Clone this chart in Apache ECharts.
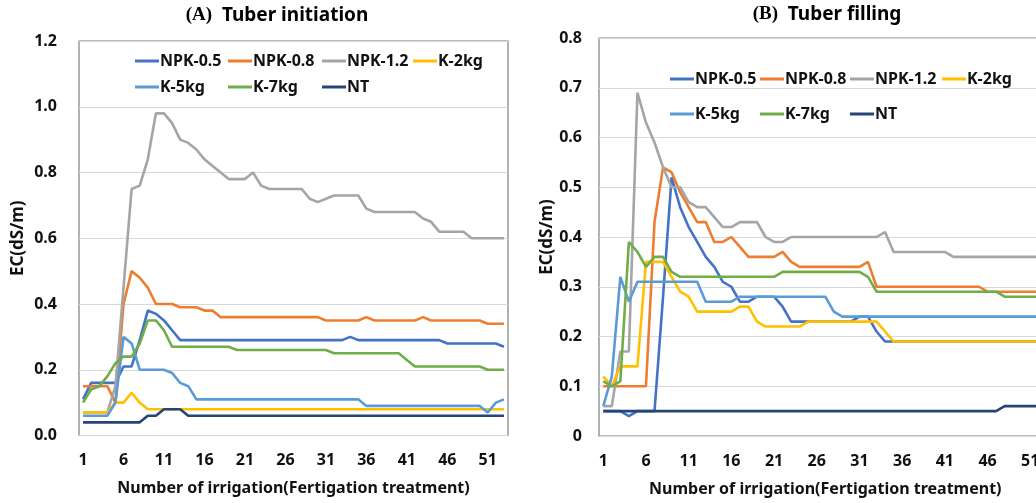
<!DOCTYPE html>
<html lang="en">
<head>
    <meta charset="UTF-8">
    <title>EC by irrigation number</title>
    <script src="https://cdn.jsdelivr.net/npm/echarts@6/dist/echarts.min.js"></script>
    <style>body{margin:0;background:#fff}</style>
</head>
<body>
<div id="main" style="width:1036px;height:503px"></div>
<script>
    // irrigation number (category axis)
    var irrigation = ['1','2','3','4','5','6','7','8','9','10','11','12','13','14','15','16','17','18','19','20',
        '21','22','23','24','25','26','27','28','29','30','31','32','33','34','35','36','37','38','39','40',
        '41','42','43','44','45','46','47','48','49','50','51','52','53']
    var names = ['NPK-0.5','NPK-0.8','NPK-1.2','K-2kg','K-5kg','K-7kg','NT']
    var colors = ['#4472C4','#ED7D31','#A5A5A5','#FFC000','#5B9BD5','#70AD47','#264478']

    // (A) Tuber initiation
    var aNpk05 = [0.11,0.16,0.16,0.16,0.16,0.21,0.21,0.29,0.38,0.37,
        0.35,0.32,0.29,0.29,0.29,0.29,0.29,0.29,0.29,0.29,
        0.29,0.29,0.29,0.29,0.29,0.29,0.29,0.29,0.29,0.29,
        0.29,0.29,0.29,0.30,0.29,0.29,0.29,0.29,0.29,0.29,
        0.29,0.29,0.29,0.29,0.29,0.28,0.28,0.28,0.28,0.28,
        0.28,0.28,0.27]
    var aNpk08 = [0.15,0.15,0.15,0.15,0.10,0.40,0.50,0.48,0.45,0.40,
        0.40,0.40,0.39,0.39,0.39,0.38,0.38,0.36,0.36,0.36,
        0.36,0.36,0.36,0.36,0.36,0.36,0.36,0.36,0.36,0.36,
        0.35,0.35,0.35,0.35,0.35,0.36,0.35,0.35,0.35,0.35,
        0.35,0.35,0.36,0.35,0.35,0.35,0.35,0.35,0.35,0.35,
        0.34,0.34,0.34]
    var aNpk12 = [0.07,0.07,0.07,0.07,0.15,0.45,0.75,0.76,0.84,0.98,
        0.98,0.95,0.90,0.89,0.87,0.84,0.82,0.80,0.78,0.78,
        0.78,0.80,0.76,0.75,0.75,0.75,0.75,0.75,0.72,0.71,
        0.72,0.73,0.73,0.73,0.73,0.69,0.68,0.68,0.68,0.68,
        0.68,0.68,0.66,0.65,0.62,0.62,0.62,0.62,0.60,0.60,
        0.60,0.60,0.60]
    var aK2 = [0.07,0.07,0.07,0.07,0.10,0.10,0.13,0.10,0.08,0.08,
        0.08,0.08,0.08,0.08,0.08,0.08,0.08,0.08,0.08,0.08,
        0.08,0.08,0.08,0.08,0.08,0.08,0.08,0.08,0.08,0.08,
        0.08,0.08,0.08,0.08,0.08,0.08,0.08,0.08,0.08,0.08,
        0.08,0.08,0.08,0.08,0.08,0.08,0.08,0.08,0.08,0.08,
        0.08,0.08,0.08]
    var aK5 = [0.06,0.06,0.06,0.06,0.10,0.30,0.28,0.20,0.20,0.20,
        0.20,0.19,0.16,0.15,0.11,0.11,0.11,0.11,0.11,0.11,
        0.11,0.11,0.11,0.11,0.11,0.11,0.11,0.11,0.11,0.11,
        0.11,0.11,0.11,0.11,0.11,0.09,0.09,0.09,0.09,0.09,
        0.09,0.09,0.09,0.09,0.09,0.09,0.09,0.09,0.09,0.09,
        0.07,0.10,0.11]
    var aK7 = [0.10,0.14,0.15,0.18,0.22,0.24,0.24,0.28,0.35,0.35,
        0.32,0.27,0.27,0.27,0.27,0.27,0.27,0.27,0.27,0.26,
        0.26,0.26,0.26,0.26,0.26,0.26,0.26,0.26,0.26,0.26,
        0.26,0.25,0.25,0.25,0.25,0.25,0.25,0.25,0.25,0.25,
        0.23,0.21,0.21,0.21,0.21,0.21,0.21,0.21,0.21,0.21,
        0.20,0.20,0.20]
    var aNT = [0.04,0.04,0.04,0.04,0.04,0.04,0.04,0.04,0.06,0.06,
        0.08,0.08,0.08,0.06,0.06,0.06,0.06,0.06,0.06,0.06,
        0.06,0.06,0.06,0.06,0.06,0.06,0.06,0.06,0.06,0.06,
        0.06,0.06,0.06,0.06,0.06,0.06,0.06,0.06,0.06,0.06,
        0.06,0.06,0.06,0.06,0.06,0.06,0.06,0.06,0.06,0.06,
        0.06,0.06,0.06]

    // (B) Tuber filling
    var bNpk05 = [0.05,0.05,0.05,0.04,0.05,0.05,0.05,0.28,0.52,0.46,
        0.42,0.39,0.36,0.34,0.31,0.30,0.27,0.27,0.28,0.28,
        0.28,0.26,0.23,0.23,0.23,0.23,0.23,0.23,0.23,0.23,
        0.24,0.24,0.21,0.19,0.19,0.19,0.19,0.19,0.19,0.19,
        0.19,0.19,0.19,0.19,0.19,0.19,0.19,0.19,0.19,0.19,
        0.19,0.19,0.19]
    var bNpk08 = [0.10,0.10,0.10,0.10,0.10,0.10,0.43,0.54,0.53,0.49,
        0.46,0.43,0.43,0.39,0.39,0.40,0.38,0.36,0.36,0.36,
        0.36,0.37,0.35,0.34,0.34,0.34,0.34,0.34,0.34,0.34,
        0.34,0.35,0.30,0.30,0.30,0.30,0.30,0.30,0.30,0.30,
        0.30,0.30,0.30,0.30,0.30,0.29,0.29,0.29,0.29,0.29,
        0.29,0.29,0.29]
    var bNpk12 = [0.06,0.06,0.17,0.17,0.69,0.63,0.59,0.54,0.50,0.50,
        0.47,0.46,0.46,0.44,0.42,0.42,0.43,0.43,0.43,0.40,
        0.39,0.39,0.40,0.40,0.40,0.40,0.40,0.40,0.40,0.40,
        0.40,0.40,0.40,0.41,0.37,0.37,0.37,0.37,0.37,0.37,
        0.37,0.36,0.36,0.36,0.36,0.36,0.36,0.36,0.36,0.36,
        0.36,0.36,0.36]
    var bK2 = [0.12,0.10,0.14,0.14,0.14,0.35,0.35,0.35,0.32,0.29,
        0.28,0.25,0.25,0.25,0.25,0.25,0.26,0.26,0.23,0.22,
        0.22,0.22,0.22,0.22,0.23,0.23,0.23,0.23,0.23,0.23,
        0.23,0.23,0.23,0.21,0.19,0.19,0.19,0.19,0.19,0.19,
        0.19,0.19,0.19,0.19,0.19,0.19,0.19,0.19,0.19,0.19,
        0.19,0.19,0.19]
    var bK5 = [0.06,0.12,0.32,0.27,0.31,0.31,0.31,0.31,0.31,0.31,
        0.31,0.31,0.27,0.27,0.27,0.27,0.28,0.28,0.28,0.28,
        0.28,0.28,0.28,0.28,0.28,0.28,0.28,0.25,0.24,0.24,
        0.24,0.24,0.24,0.24,0.24,0.24,0.24,0.24,0.24,0.24,
        0.24,0.24,0.24,0.24,0.24,0.24,0.24,0.24,0.24,0.24,
        0.24,0.24,0.24]
    var bK7 = [0.11,0.10,0.11,0.39,0.37,0.34,0.36,0.36,0.33,0.32,
        0.32,0.32,0.32,0.32,0.32,0.32,0.32,0.32,0.32,0.32,
        0.32,0.33,0.33,0.33,0.33,0.33,0.33,0.33,0.33,0.33,
        0.33,0.32,0.29,0.29,0.29,0.29,0.29,0.29,0.29,0.29,
        0.29,0.29,0.29,0.29,0.29,0.29,0.29,0.28,0.28,0.28,
        0.28,0.28,0.28]
    var bNT = [0.05,0.05,0.05,0.05,0.05,0.05,0.05,0.05,0.05,0.05,
        0.05,0.05,0.05,0.05,0.05,0.05,0.05,0.05,0.05,0.05,
        0.05,0.05,0.05,0.05,0.05,0.05,0.05,0.05,0.05,0.05,
        0.05,0.05,0.05,0.05,0.05,0.05,0.05,0.05,0.05,0.05,
        0.05,0.05,0.05,0.05,0.05,0.05,0.05,0.06,0.06,0.06,
        0.06,0.06,0.06]

    var panelA = [aNpk05, aNpk08, aNpk12, aK2, aK5, aK7, aNT]
    var panelB = [bNpk05, bNpk08, bNpk12, bK2, bK5, bK7, bNT]

    var font = 'Noto Sans'
    var txt = '#111'

    function makeSeries(data, idx) {
        return data.map(function (d, i) {
            return {
                name: names[i], type: 'line', data: d,
                xAxisIndex: idx, yAxisIndex: idx,
                symbol: 'none', color: colors[i],
                lineStyle: {width: 2.6, color: colors[i]},
                animation: false
            }
        })
    }

    // legend laid out in 4 columns x 2 rows like the excel legend
    var legendCols = [['NPK-0.5','K-5kg'],['NPK-0.8','K-7kg'],['NPK-1.2','NT'],['K-2kg']]
    function makeLegends(xs, top, gap) {
        return legendCols.map(function (col, i) {
            return {
                data: col, orient: 'vertical', left: xs[i], top: top,
                icon: 'rect', itemGap: gap, itemWidth: 24, itemHeight: 3, padding: 0,
                textStyle: {fontFamily: font, fontWeight: 'bold', fontSize: 16, color: txt, lineHeight: 20, padding: [0,0,0,-4]}
            }
        })
    }

    function xAx(idx) {
        return {
            type: 'category', gridIndex: idx, data: irrigation, boundaryGap: true,
            axisTick: {show: false}, axisLine: {show: false},
            axisLabel: {interval: 4, margin: 17, fontFamily: font, fontWeight: 'bold', fontSize: 16, color: txt},
            name: 'Number of irrigation(Fertigation treatment)', nameLocation: 'middle', nameGap: 45,
            nameTextStyle: {fontFamily: font, fontWeight: 'bold', fontSize: 16, color: txt}
        }
    }

    var chart = echarts.init(document.getElementById('main'), null, {renderer: 'canvas'})
    var option = {
        backgroundColor: '#fff',
        animation: false,
        title: [
            {text: '{a|(A)}  {b|Tuber initiation}', left: 277, top: 6, textAlign: 'center', padding: 0,
                textStyle: {fontFamily: font, fontSize: 19, fontWeight: 'bold',
                    rich: {a: {fontFamily: 'Liberation Serif', fontWeight: 'bold', fontSize: 19, color: '#000'},
                        b: {fontFamily: font, fontWeight: 'bold', fontSize: 19, color: '#000'}}}},
            {text: '{a|(B)}  {b|Tuber filling}', left: 827, top: 5, textAlign: 'center', padding: 0,
                textStyle: {fontFamily: font, fontSize: 19, fontWeight: 'bold',
                    rich: {a: {fontFamily: 'Liberation Serif', fontWeight: 'bold', fontSize: 19, color: '#000'},
                        b: {fontFamily: font, fontWeight: 'bold', fontSize: 19, color: '#000'}}}}
        ],
        legend: makeLegends([135, 228, 322, 413], 51, 6).concat(makeLegends([670, 760, 850, 942], 69, 15)),
        grid: [
            {left: 79, top: 41, width: 429, height: 394.5, show: true, borderColor: '#7f7f7f', borderWidth: 1.2,
                outerBoundsMode: 'none'},
            {left: 599, top: 38, width: 452.6, height: 398, show: true, borderColor: '#7f7f7f', borderWidth: 1.2,
                outerBoundsMode: 'none'}
        ],
        xAxis: [xAx(0), xAx(1)],
        yAxis: [
            {type: 'value', gridIndex: 0, min: 0, max: 1.2, interval: 0.2,
                axisLine: {show: false}, axisTick: {show: false},
                splitLine: {lineStyle: {color: '#d9d9d9', width: 1}},
                axisLabel: {margin: 22, fontFamily: font, fontWeight: 'bold', fontSize: 16, color: txt,
                    formatter: function (v) { return v.toFixed(1) }},
                name: 'EC(dS/m)', nameLocation: 'middle', nameGap: 52,
                nameTextStyle: {fontFamily: font, fontWeight: 'bold', fontSize: 17, color: txt}},
            {type: 'value', gridIndex: 1, min: 0, max: 0.8, interval: 0.1,
                axisLine: {show: false}, axisTick: {show: false},
                splitLine: {lineStyle: {color: '#d9d9d9', width: 1}},
                axisLabel: {margin: 17, fontFamily: font, fontWeight: 'bold', fontSize: 16, color: txt,
                    formatter: function (v) { return v === 0 ? '0' : v.toFixed(1) }},
                name: 'EC(dS/m)', nameLocation: 'middle', nameGap: 42,
                nameTextStyle: {fontFamily: font, fontWeight: 'bold', fontSize: 17, color: txt}}
        ],
        series: makeSeries(panelA, 0).concat(makeSeries(panelB, 1))
    }
    chart.setOption(option)
</script>
</body>
</html>
